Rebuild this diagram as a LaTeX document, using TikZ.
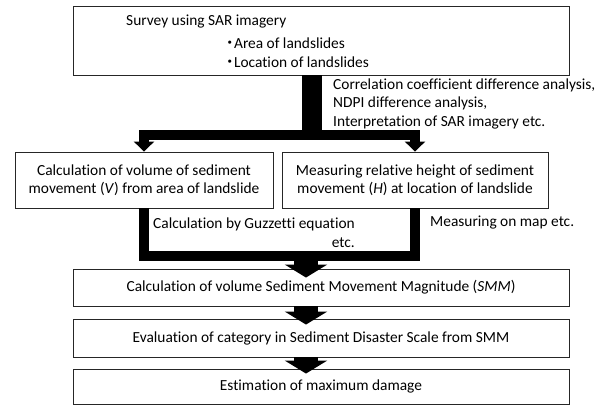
\documentclass[tikz,border=0pt]{standalone}
\usepackage{fontspec}
\setmainfont{Carlito}[Ligatures=NoCommon]
\newfontfamily\cjk{Noto Sans CJK JP}
\usetikzlibrary{arrows.meta,calc}

\begin{document}
\begin{tikzpicture}[x=1pt,y=-1pt,
    every node/.style={font=\fontsize{15.4pt}{17.6pt}\selectfont},
    box/.style={draw=black!85,line width=0.9pt,inner sep=0pt,align=center},
    txt/.style={inner sep=0pt,anchor=west,align=left},
    fat/.style={line width=10pt},
    fatarrow/.style={line width=10pt,-{Triangle[width=20pt,length=10pt]}},
    blockarrow/.style={line width=24pt,-{Triangle[width=42pt,length=13pt]}}]
    \useasboundingbox (0,0) rectangle (605,406);

    % Survey box
    \node[box,minimum width=496pt,minimum height=69pt] (survey) at (321,40.5) {};
    \node[txt] (surveytitle) at (126,22) {Survey using SAR imagery};
    \node[txt] (area) at (222,43) {{\cjk ・}\kern-3.5pt Area of landslides};
    \node[txt] (location) at (222,62) {{\cjk ・}\kern-3.5pt Location of landslides};

    % Volume and height boxes
    \node[box,minimum width=258pt,minimum height=56pt] (volume) at (144,180)
        {Calculation of volume of sediment\\movement (\textit{V}) from area of landslide};
    \node[box,minimum width=266pt,minimum height=56pt] (height) at (415,180)
        {Measuring relative height of sediment\\movement (\textit{H}) at location of landslide};

    % Lower boxes
    \node[box,minimum width=496pt,minimum height=37pt] (smm) at (321,287.5)
        {Calculation of volume Sediment Movement Magnitude (\textit{SMM})};
    \node[box,minimum width=496pt,minimum height=38pt] (scale) at (321,338)
        {Evaluation of category in Sediment Disaster Scale from SMM};
    \node[box,minimum width=496pt,minimum height=35pt] (damage) at (321,386.5)
        {Estimation of maximum damage};

    % Method labels
    \node[txt,font=\fontsize{15.4pt}{18.5pt}\selectfont] (methods) at (333,103.5)
        {Correlation coefficient difference analysis,\\NDPI difference analysis,\\Interpretation of SAR imagery etc.};
    \node[txt,align=right,font=\fontsize{15.4pt}{19pt}\selectfont] (guzzetti) at (153,232.5)
        {Calculation by Guzzetti equation\\etc.};
    \node[txt] (onmap) at (430,223) {Measuring on map etc.};

    % Split
    \coordinate (split) at (312,135.5);
    \draw[line width=20pt] (survey.south -| split) -- ($(split)+(0,5)$);
    \draw[fatarrow] (split) -| (volume.north);
    \draw[fatarrow] (split) -| (height.north);

    % Merge
    \coordinate (merge) at (306,256);
    \draw[fat] (volume.south) |- (merge) -| (height.south);
    \draw[blockarrow] (merge) -- ($(smm.north -| merge)+(0,9)$);
    \draw[blockarrow,shorten >=-6pt] (smm.south -| merge) -- (scale.north -| merge);
    \draw[blockarrow,shorten >=-5pt] (scale.south -| merge) -- (damage.north -| merge);
\end{tikzpicture}
\end{document}
